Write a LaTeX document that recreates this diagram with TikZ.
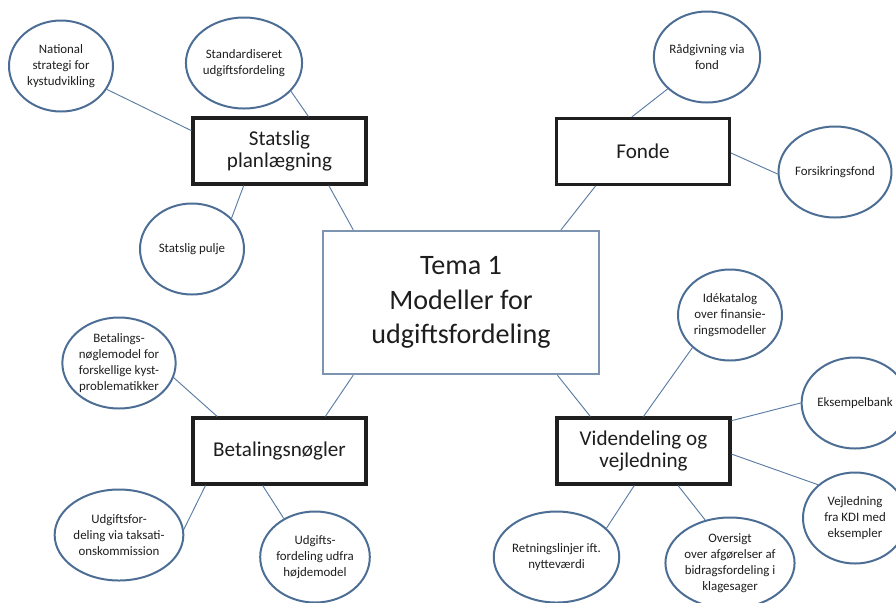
\documentclass[tikz,border=0pt]{standalone}
\usepackage{fontspec}
\setmainfont{Carlito}
\usetikzlibrary{shapes.geometric}

\definecolor{ellipseblue}{HTML}{4C6D94}
\definecolor{boxblack}{HTML}{1F1F1F}
\definecolor{linkblue}{HTML}{5B7CA3}
\definecolor{temablue}{HTML}{7D94B1}
\definecolor{textgray}{HTML}{1E1E1E}

\begin{document}
\begin{tikzpicture}[x=0.03cm,y=-0.03cm,
		idea/.style={ellipse,draw=ellipseblue,line width=1.7pt,inner sep=0pt,
			minimum width=3.12cm,minimum height=2.73cm,align=center,
			text=textgray,font=\fontsize{11}{13.5}\selectfont},
		topic/.style={rectangle,draw=boxblack,line width=2.6pt,inner sep=0pt,
			minimum width=5.19cm,minimum height=1.98cm,align=center,
			text=textgray,font=\fontsize{18}{19}\selectfont},
		link/.style={-,draw=linkblue,line width=0.8pt}]
		\useasboundingbox (0,0) rectangle (896,602);

		% boxes
		\node [topic,draw=temablue,line width=2pt,minimum width=8.28cm,minimum height=4.29cm,
			font=\fontsize{24}{29.3}\selectfont] (tema) at (461,302.5)
			{Tema 1\\Modeller for\\udgiftsfordeling};
		\node [topic] (stat) at (279.5,151) {Statslig\\planlægning};
		\node [topic] (fonde) at (643,151.5) {Fonde};
		\node [topic] (betal) at (279.5,451) {Betalingsnøgler};
		\node [topic] (viden) at (643.5,451) {Videndeling og\\vejledning};

		% ellipses
		\node [idea] (nat) at (61,66) {National\\strategi for\\kystudvikling};
		\node [idea] (std) at (244,63) {Standardiseret\\udgiftsfordeling};
		\node [idea] (pulje) at (192,249) {Statslig pulje};
		\node [idea] (raad) at (707,57) {Rådgivning via\\fond};
		\node [idea] (fors) at (835,172) {Forsikringsfond};
		\node [idea] (model) at (119,363) {Betalings-\\nøglemodel for\\forskellige kyst-\\problematikker};
		\node [idea] (takst) at (119,535) {Udgiftsfor-\\deling via taksati-\\onskommission};
		\node [idea] (udfra) at (315,557) {Udgifts-\\fordeling udfra\\højdemodel};
		\node [idea] (ide) at (730,315) {Idékatalog\\over finansie-\\ringsmodeller};
		\node [idea] (eks) at (855,403) {Eksempelbank};
		\node [idea] (vejl) at (855,518) {Vejledning\\fra KDI med\\eksempler};
		\node [idea] (retn) at (556.5,557) {Retningslinjer ift.\\nytteværdi};
		\node [idea] (overs) at (730,563) {Oversigt\\over afgørelser af\\bidragsfordeling i\\klagesager};

		% lines to the centre
		\draw [link] (stat.325.8) to (tema.146.85);
		\draw [link] (fonde.216.4) to (tema.36.8);
		\draw [link] (betal.37.2) to (tema.214.6);
		\draw [link] (viden.147.1) to (tema.323.2);

		% lines to the ellipses
		\draw [link] (stat.167.7) to (nat.333);
		\draw [link] (stat.50.2) to (std.329);
		\draw [link] (stat.224.6) to (pulje.38.5);
		\draw [link] (fonde.108.2) to (raad.219);
		\draw [link] (fonde.359) to (fors.182);
		\draw [link] (betal.151.3) to (model.345);
		\draw [link] (betal.205.4) to (takst.5.6);
		\draw [link] (betal.244.8) to (udfra.129);
		\draw [link] (viden.90) to (ide.221);
		\draw [link] (viden.19.7) to (eks.180);
		\draw [link] (viden.358.7) to (vejl.138);
		\draw [link] (viden.255.6) to (retn.30);
		\draw [link] (viden.315.4) to (overs.120);
	\end{tikzpicture}
\end{document}
